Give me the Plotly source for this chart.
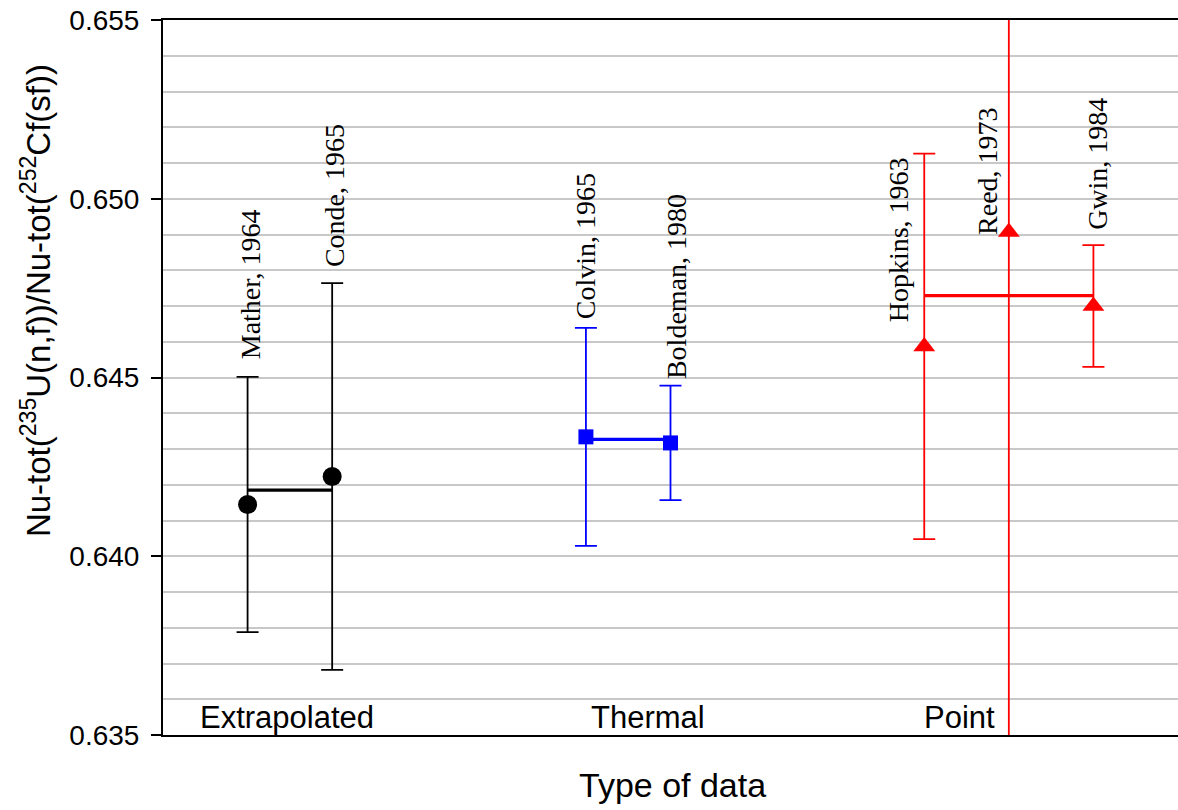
import plotly.graph_objects as go

# ---- data ----
extrap_names = ["Mather, 1964", "Conde, 1965"]
extrap_x = [1, 2]
extrap_y = [0.64145, 0.64223]
extrap_err = [0.00357, 0.00541]
extrap_mean = 0.64185

thermal_names = ["Colvin, 1965", "Boldeman, 1980"]
thermal_x = [5, 6]
thermal_y = [0.64334, 0.64317]
thermal_err = [0.00305, 0.00160]
thermal_mean = 0.64327

point_names = ["Hopkins, 1963", "Reed, 1973", "Gwin, 1984"]
point_x = [9, 10, 11]
point_y = [0.64587, 0.64907, 0.64700]
point_err = [0.00539, 0.02000, 0.00170]
point_mean = 0.64729

group_labels = ["Extrapolated", "Thermal", "Point"]
group_label_x = [1.47, 5.73, 9.42]

# label placement (data coords of bottom-centre of rotated labels)
label_x = [1.03, 2.03, 4.99, 6.07, 8.70, 9.74, 11.04]
label_y = [0.64557, 0.64815, 0.64669, 0.64501, 0.64661, 0.64904, 0.64918]

fig = go.Figure()

def add_group(xs, ys, errs, mean, color, symbol, size):
    fig.add_trace(go.Scatter(
        x=[xs[0], xs[-1]], y=[mean, mean], mode="lines",
        line=dict(color=color, width=3.2), hoverinfo="skip", showlegend=False))
    fig.add_trace(go.Scatter(
        x=xs, y=ys, mode="markers",
        marker=dict(color=color, symbol=symbol, size=size, line=dict(width=0)),
        error_y=dict(type="data", array=errs, visible=True, color=color,
                     thickness=1.8, width=11),
        showlegend=False))

add_group(extrap_x, extrap_y, extrap_err, extrap_mean, "#000000", "circle", 19)
add_group(thermal_x, thermal_y, thermal_err, thermal_mean, "#0000ff", "square", 15)
add_group(point_x, point_y, point_err, point_mean, "#ff0000", "triangle-up", 19)

annotations = []
all_names = extrap_names + thermal_names + point_names
for name, lx, ly in zip(all_names, label_x, label_y):
    annotations.append(dict(
        x=lx, y=ly, xref="x", yref="y", text=name, showarrow=False,
        textangle=-90, xanchor="center", yanchor="bottom", yshift=-4,
        font=dict(family="Liberation Serif, Times New Roman, serif", size=28, color="black")))

for g, gx in zip(group_labels, group_label_x):
    annotations.append(dict(
        x=gx, y=0.635, xref="x", yref="y", text=g, showarrow=False,
        xanchor="center", yanchor="bottom", yshift=-2,
        font=dict(family="Arial, Liberation Sans, sans-serif", size=31, color="black")))

annotations.append(dict(
    x=-0.125, y=0.607, xref="paper", yref="paper",
    text="Nu-tot(<sup>235</sup>U(n,f))/Nu-tot(<sup>252</sup>Cf(sf))",
    showarrow=False, textangle=-90, xanchor="center", yanchor="middle",
    font=dict(family="Arial, Liberation Sans, sans-serif", size=33, color="black")))

annotations.append(dict(
    x=0.5015, y=-0.07, xref="paper", yref="paper", text="Type of data",
    showarrow=False, xanchor="center", yanchor="middle",
    font=dict(family="Arial, Liberation Sans, sans-serif", size=34, color="black")))

fig.update_layout(
    width=1178, height=810,
    margin=dict(l=163, r=0, t=20, b=75),
    paper_bgcolor="white", plot_bgcolor="white",
    annotations=annotations,
    xaxis=dict(range=[0, 12], showticklabels=False, ticks="", showgrid=False,
               zeroline=False, showline=True, linecolor="black", linewidth=2,
               mirror=True),
    yaxis=dict(range=[0.635, 0.655], dtick=0.005, tick0=0.635, tickformat=".3f",
               ticks="outside", ticklen=10, tickwidth=1.5, tickcolor="black",
               ticklabelstandoff=6,
               showline=True, linecolor="black", linewidth=2,
               showgrid=True, gridcolor="#c8c8c8", gridwidth=1.5, zeroline=False,
               minor=dict(dtick=0.001, showgrid=True, gridcolor="#c8c8c8", gridwidth=1.5),
               tickfont=dict(family="Arial, Liberation Sans, sans-serif", size=28, color="black")),
)

fig.write_html("out.html", config={"displayModeBar": False},
               post_script="document.body.style.margin='0';document.body.style.overflow='hidden';")
